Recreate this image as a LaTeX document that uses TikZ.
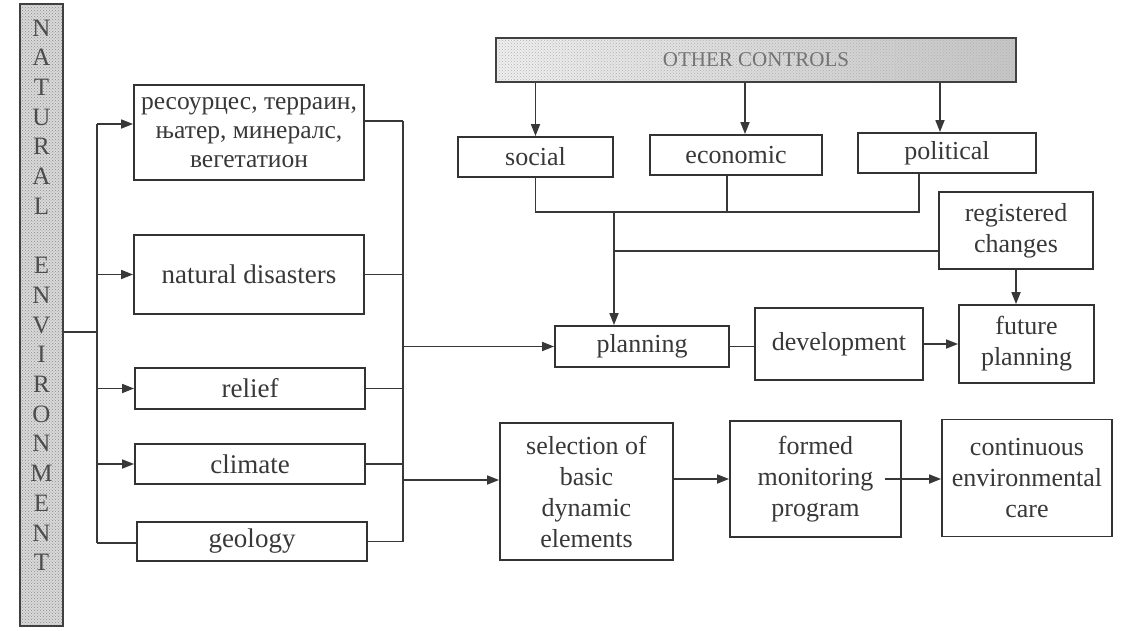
\documentclass[tikz,border=0pt]{standalone}
\usepackage{fontspec}
\setmainfont{Liberation Serif}
\usetikzlibrary{arrows.meta,positioning,patterns}

\begin{document}
\begin{tikzpicture}[x=1pt,y=-1pt,>={Triangle[length=12pt,width=9pt]},line width=1.7pt,color=black!78]
\tikzstyle{box} = [rectangle,draw=black!80,line width=1.8pt,fill=white,align=center,inner sep=1pt,font=\fontsize{26}{31}\selectfont]
\tikzstyle{leftbox} = [box,font=\fontsize{27}{29}\selectfont]
\tikzstyle{bar} = [rectangle,draw=black!75,line width=1.8pt,inner sep=0pt]
\tikzstyle{letter} = [inner sep=0pt,text=black!70,font=\fontsize{25}{26}\selectfont]
\useasboundingbox (0,0) rectangle (1125,630);

    % left column
    \node[bar,preaction={fill=gray!30},pattern=crosshatch dots,pattern color=black!45,minimum width=43pt,minimum height=622pt] (natenv) at (41.5,315) {};
    \foreach \ch [count=\i] in {N,A,T,U,R,A,L,{},E,N,V,I,R,O,N,M,E,N,T}
        \node[letter] (nl\i) at (41.5,{28+29.7*(\i-1)}) {\ch};
    \node[leftbox,font=\fontsize{25.5}{29}\selectfont,minimum width=230pt,minimum height=95pt] (res) at (249,132.5) {ресоурцес, терраин,\\њатер, минералс,\\вегетатион};
    \node[leftbox,minimum width=230pt,minimum height=79pt] (dis) at (249,274.5) {natural disasters};
    \node[leftbox,minimum width=230pt,minimum height=41pt] (rel) at (250,388.5) {relief};
    \node[leftbox,minimum width=230pt,minimum height=40pt] (cli) at (250,464) {climate};
    \node[leftbox,minimum width=230pt,minimum height=39pt] (geo) at (252,541.5) {geology};

    % controls
    \node[bar,preaction={left color=gray!12,right color=gray!45},pattern=crosshatch dots,pattern color=black!30,minimum width=520pt,minimum height=44pt,text=black!55,font=\fontsize{21}{22}\selectfont] (ctrl) at (756,60) {OTHER CONTROLS};
    \node[box,minimum width=155pt,minimum height=40pt] (soc) at (535.5,157) {social};
    \node[box,minimum width=172pt,minimum height=40pt] (eco) at (736,155) {economic};
    \node[box,minimum width=178pt,minimum height=40pt] (pol) at (947,153) {political};
    \node[box,minimum width=154pt,minimum height=77pt] (reg) at (1016,230.5) {registered\\changes};

    % planning row
    \node[box,minimum width=174pt,minimum height=41pt] (plan) at (642,346.5) {planning};
    \node[box,minimum width=168pt,minimum height=72pt] (dev) at (839,344) {development};
    \node[box,minimum width=135pt,minimum height=78pt] (fut) at (1026.5,344) {future\\planning};

    % monitoring row
    \node[box,minimum width=173pt,minimum height=137pt] (sel) at (586.5,491.5) {selection of\\basic\\dynamic\\elements};
    \node[box,minimum width=171pt,minimum height=116pt] (form) at (815.5,479) {formed\\monitoring\\program};
    \node[box,minimum width=170pt,minimum height=117pt] (cont) at (1027,478) {continuous\\environmental\\care};

    \coordinate (tl) at (97,124);
    \coordinate (tb) at (97,543);
    \coordinate (tj) at (97,332);
    \coordinate (cr) at (403,121);
    \coordinate (cb) at (403,541.5);
    \coordinate (lo) at (403,480);
    \coordinate (mj) at (614,212);
    \coordinate (rj) at (614,251);
    \coordinate (ea) at (745,0);
    \coordinate (ed) at (727,0);
    \coordinate (pa) at (940,0);
    \coordinate (pd) at (919,0);

    \draw (natenv.east |- tj) -- (tj);
    \draw (tl) -- (tb);
    \draw[->] (tl) -- (res.west |- tl);
    \foreach \n in {dis,rel,cli}
        \draw[->] (tl |- \n.west) -- (\n.west);
    \draw (tb) -- (geo.west |- tb);
    \draw (cr) -- (cb);
    \draw (res.east |- cr) -- (cr);
    \foreach \n in {dis,rel,cli,geo}
        \draw (\n.east) -- (cr |- \n.east);
    \draw[->] (cr |- plan.west) -- (plan.west);
    \draw[->] (lo) -- (sel.west |- lo);

    \draw[->] (soc.north |- ctrl.south) -- (soc.north);
    \draw[->] (ea |- ctrl.south) -- (ea |- eco.north);
    \draw[->] (pa |- ctrl.south) -- (pa |- pol.north);
    \draw (soc.south) |- (pd |- mj) -- (pd |- pol.south);
    \draw (ed |- eco.south) -- (ed |- mj);
    \draw[->] (mj) -- (mj |- plan.north);
    \draw (reg.west |- rj) -- (rj);
    \draw[->] (reg.south) -- (reg.south |- fut.north);

    \draw (plan.east) -- (dev.west |- plan.east);
    \draw[->] (dev.east) -- (fut.west |- dev.east);
    \draw[->] (sel.east |- form.west) -- (form.west);
    \draw[->] ([xshift=-17pt]form.east) -- (cont.west |- form.east);
\end{tikzpicture}
\end{document}
